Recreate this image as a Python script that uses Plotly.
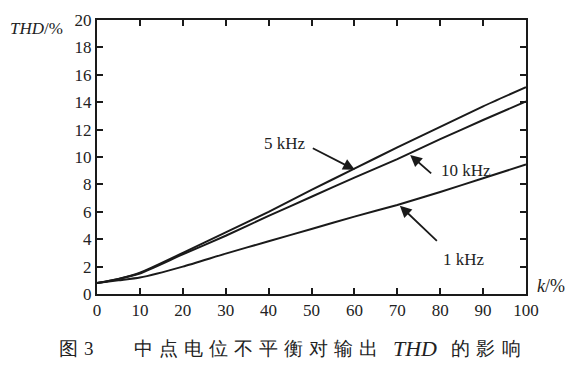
import plotly.graph_objects as go

k = [0, 5, 10, 20, 30, 40, 50, 60, 70, 80, 90, 100]
thd_5k = [0.8, 1.1, 1.55, 3.0, 4.5, 6.0, 7.6, 9.15, 10.7, 12.2, 13.7, 15.1]
thd_10k = [0.8, 1.1, 1.5, 2.9, 4.25, 5.7, 7.1, 8.5, 9.85, 11.3, 12.7, 14.05]
thd_1k = [0.8, 1.0, 1.2, 2.0, 2.95, 3.85, 4.75, 5.65, 6.5, 7.45, 8.45, 9.45]

x_ticks = [0, 10, 20, 30, 40, 50, 60, 70, 80, 90, 100]
y_ticks = [0, 2, 4, 6, 8, 10, 12, 14, 16, 18, 20]

caption_parts = ["图", "3", "中", "点", "电", "位", "不", "平", "衡", "对", "输", "出",
                 "<i>THD</i>", "的", "影", "响"]
caption_px = [68.5, 89, 143.5, 168.5, 193.5, 218.5, 243.5, 268.5, 293.5, 318.5, 343.5, 368.5,
              415, 460, 485, 511.5]
caption_size = [19, 19, 19, 19, 19, 19, 19, 19, 19, 19, 19, 19, 22, 19, 19, 19]

FONT = "Liberation Serif"
LINE = "#1a1a1a"
TXT = "#222"

W, H = 579, 368
ML, MR, MT, MB = 97, 53, 11, 74

fig = go.Figure()
for ys in (thd_5k, thd_10k, thd_1k):
    fig.add_trace(go.Scatter(x=k, y=ys, mode="lines",
                             line=dict(color=LINE, width=2, shape="spline", smoothing=0.6),
                             showlegend=False, hoverinfo="skip"))

# (label, tip x, tip y, arrow tail dx, dy (px), text dx, dy (px), anchor)
ann = [
    ("5 kHz", 60.1, 9.07, -45, -23, -47, 26, "right"),
    ("10 kHz", 73.0, 10.15, 24, 21, 29, -16, "left"),
    ("1 kHz", 70.6, 6.45, 40, 38, 41, -54, "left"),
]
for text, tx, ty, ax, ay, dx, dy, xa in ann:
    fig.add_annotation(x=tx, y=ty, ax=ax, ay=ay, axref="pixel", ayref="pixel", showarrow=True,
                       arrowhead=2, arrowsize=1.3, arrowwidth=1.8, arrowcolor=LINE, standoff=0)
    fig.add_annotation(x=tx, y=ty, xshift=dx, yshift=dy, text=text, showarrow=False,
                       xanchor=xa, yanchor="middle", font=dict(family=FONT, size=17, color=TXT))

fig.add_annotation(x=0, y=1, xref="paper", yref="paper", xshift=-32, yshift=-8, text="<i>THD</i>/%",
                   showarrow=False, xanchor="right", yanchor="middle",
                   font=dict(family=FONT, size=17, color=TXT))
fig.add_annotation(x=1, y=0, xref="paper", yref="paper", xshift=9, yshift=8, text="<i>k</i>/%",
                   showarrow=False, xanchor="left", yanchor="middle",
                   font=dict(family=FONT, size=18, color=TXT))

# caption, one glyph per annotation to reproduce the wide character spacing
for part, px, sz in zip(caption_parts, caption_px, caption_size):
    fig.add_annotation(x=0, y=0, xref="paper", yref="paper", xshift=px - ML, yshift=-(348 - (H - MB)),
                       text=part, showarrow=False, xanchor="center", yanchor="middle",
                       font=dict(family=FONT, size=sz, color=TXT))

axis_common = dict(showgrid=False, zeroline=False, showline=True, linecolor=LINE, linewidth=2,
                   mirror="ticks", ticks="inside", ticklen=6, tickwidth=2, tickcolor=LINE,
                   tickfont=dict(family=FONT, size=17, color=TXT))
fig.update_xaxes(range=[0, 100], tickvals=x_ticks, **axis_common)
fig.update_yaxes(range=[0, 20], tickvals=y_ticks, **axis_common)

fig.update_layout(width=W, height=H, margin=dict(l=ML, r=MR, t=MT, b=MB),
                  plot_bgcolor="white", paper_bgcolor="white")
fig.write_html("out.html", config={"displayModeBar": False},
               post_script="document.body.style.margin='0';")
